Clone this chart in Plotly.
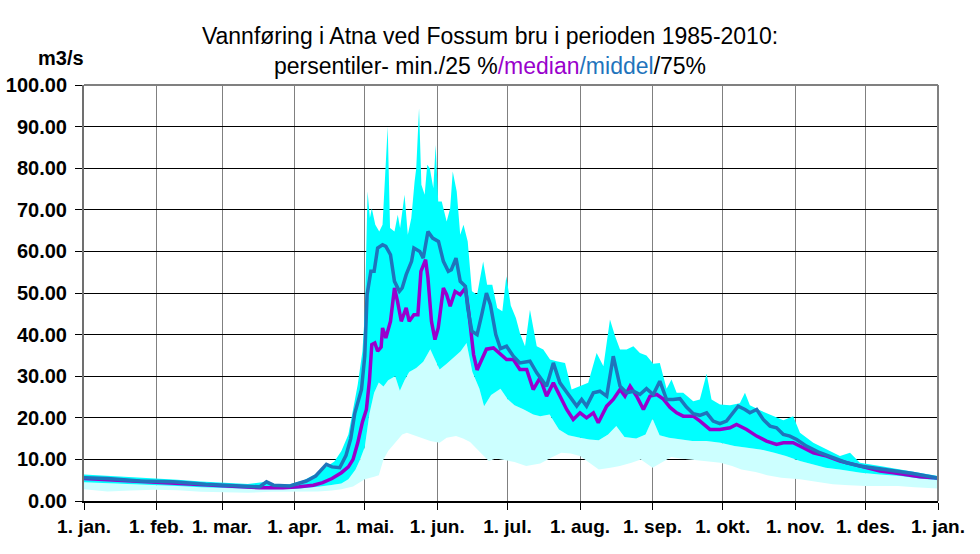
import plotly.graph_objects as go

# ---------------- data (day of year, 0 = 1. jan.) ----------------
month_days = [0, 31, 59, 90, 120, 151, 181, 212, 243, 273, 304, 334, 365]
month_labels = ["1. jan.", "1. feb.", "1. mar.", "1. apr.", "1. mai.", "1. jun.",
                "1. jul.", "1. aug.", "1. sep.", "1. okt.", "1. nov.", "1. des.", "1. jan."]

min_days = [0, 10, 20, 30, 40, 50, 60, 70, 80, 90, 100, 106, 110, 115, 120, 124, 126, 128,
            130, 133, 136, 138, 140, 142, 145, 148, 152, 155, 159, 162, 165, 169, 173, 176,
            180, 184, 189, 195, 200, 204, 208, 212, 216, 220, 225, 229, 234, 238, 243, 247,
            251, 255, 259, 263, 267, 272, 277, 281, 287, 292, 298, 306, 313, 320, 327, 334,
            341, 348, 355, 365]
min_vals = [2.8, 2.3, 2.5, 2.7, 2.6, 2.2, 2.1, 2.0, 2.2, 2.2, 2.3, 2.5, 2.8, 3.5, 5.2, 5.8, 6.2, 10.0,
            12.0, 14.0, 16.0, 16.4, 16.0, 15.6, 15.0, 14.4, 14.0, 15.2, 15.6, 15.0, 14.2, 12.0, 9.6, 10.2,
            9.8, 9.4, 8.4, 9.0, 10.5, 11.6, 11.4, 10.8, 9.2, 7.6, 8.0, 8.4, 9.2, 10.0, 8.0, 9.2,
            10.6, 10.2, 10.0, 9.8, 9.6, 9.2, 8.4, 7.6, 7.0, 6.2, 5.6, 5.2, 4.6, 4.0, 3.8, 3.6,
            3.6, 3.6, 3.3, 3.0]

p25_days = [0, 10, 20, 30, 40, 50, 60, 70, 80, 90, 96, 100, 105, 110, 113, 116, 118, 120, 122,
            124, 126, 128, 130, 133, 135, 137, 139, 142, 145, 148, 150, 152, 155, 158, 161, 163.5,
            166, 169, 171, 174, 176.5, 178, 181, 184, 188, 192, 195, 199, 203, 207, 212, 216, 220,
            224, 227.5, 231, 236, 240, 243, 246, 250, 255, 260, 266, 272, 278, 283, 289, 295,
            300, 306, 312, 317, 323, 332, 340, 349, 357, 365]
p25_vals = [4.5, 4.3, 4.0, 3.8, 3.6, 3.3, 3.1, 2.9, 2.8, 2.9, 3.1, 3.4, 3.8, 4.2, 5.2, 7.5, 10.0, 13.0, 21.0,
            26.0, 28.5, 27.5, 29.0, 30.0, 26.5, 29.0, 31.0, 32.0, 33.5, 36.5, 34.0, 31.6, 33.0, 34.5, 36.0, 38.0,
            31.0, 27.0, 22.8, 25.5, 26.5, 27.0, 24.5, 23.0, 22.0, 20.8, 20.4, 20.8, 17.2, 15.8, 15.2, 14.8, 14.6,
            16.0, 18.0, 15.4, 15.0, 16.0, 19.8, 15.8, 15.2, 14.8, 14.4, 14.4, 14.0, 13.2, 12.8, 12.4, 11.6,
            10.8, 9.6, 8.8, 8.0, 7.6, 6.8, 6.4, 6.0, 5.4, 5.0]

p75_days = [0, 10, 20, 30, 40, 50, 60, 70, 78, 82, 88, 94, 99, 103, 107, 110, 113, 115, 117, 119,
            120, 121.2, 122.2, 123, 124.5, 126.2, 127.6, 129.8, 130.8, 132.7, 134.1, 135.1, 137,
            138.4, 139.9, 141.3, 142, 143.2, 144.2, 145.6, 146.7, 147.8, 149.3, 150.3, 151.4, 152.9,
            155, 156.5, 157.6, 159.3, 160.8, 162.2, 164, 165.8, 168, 170.6, 172.3, 174.5, 176.6,
            178.8, 180.5, 182.4, 184.6, 186.3, 188.5, 190.6, 193.5, 196.3, 199.2, 202, 205.6, 208.4,
            212, 215.5, 219.1, 222, 224.8, 227, 229.1, 231.9, 234.8, 237.6, 240.4, 243.3, 246.1,
            249, 251.1, 253.3, 256.1, 260.4, 263.2, 266.1, 268.2, 271.8, 276.1, 280.3, 282.5, 284.6,
            288.9, 294.6, 298.9, 303.1, 306, 311.7, 317.4, 323.1, 327.4, 331.6, 340.2, 348.7, 357.3, 365]
p75_vals = [6.4, 6.1, 5.8, 5.5, 5.1, 4.7, 4.4, 4.1, 4.6, 3.9, 4.0, 5.0, 6.5, 8.0, 9.5, 12.0, 16.0, 22.0, 28.0, 36.0,
            45.0, 74.4, 68.0, 70.4, 66.4, 64.8, 66.4, 90.0, 65.6, 64.8, 68.8, 65.6, 73.6,
            64.0, 68.0, 76.8, 80.0, 94.4, 76.0, 73.6, 80.8, 80.0, 75.2, 85.6, 72.0, 72.0,
            67.2, 70.4, 79.2, 74.4, 64.0, 66.4, 62.4, 50.4, 49.6, 57.6, 52.0, 52.0, 46.4,
            45.6, 54.0, 47.0, 44.0, 40.4, 37.2, 46.0, 37.2, 36.4, 34.0, 33.6, 33.2, 26.8,
            27.6, 28.4, 35.6, 32.4, 43.6, 39.6, 36.4, 36.4, 37.2, 35.6, 35.0, 33.0, 33.2,
            27.0, 29.2, 26.0, 26.0, 24.0, 24.4, 30.6, 24.4, 23.2, 23.0, 23.5, 26.0, 23.0,
            21.8, 20.4, 19.4, 20.4, 16.4, 14.0, 12.4, 10.8, 11.6, 9.2, 8.4, 7.6, 6.8, 6.0]

median_days = [0, 15, 30, 45, 60, 75, 85, 92, 98, 102, 106, 110, 113, 115, 117, 119, 120.7, 122,
               123, 124.3, 125.5, 127, 127.6, 129, 131, 132.7, 134, 135.6, 137.7, 139, 141, 142.7,
               144, 146, 147, 148.5, 150, 151.4, 153.6, 155, 156.5, 158.6, 160.8, 163, 164.4, 166.5,
               168, 170, 172, 175, 177.8, 180.6, 183.5, 186.3, 189.2, 192, 194.9, 197.7, 200.6,
               203.4, 206.3, 209.1, 212, 214.8, 217.7, 219.8, 223.4, 226.2, 229.1, 231.2, 233.4,
               236.2, 239.1, 241.9, 244.8, 247.6, 250.5, 253.3, 256.1, 260.4, 263.3, 267.5, 271.8,
               276.1, 278.9, 283.2, 287.5, 291.7, 296, 298.9, 303.1, 307.4, 311.7, 317.4, 323.1,
               328.8, 334.5, 340.2, 345.9, 351.6, 357.3, 365]
median_vals = [5.4, 5.0, 4.6, 4.2, 3.8, 3.2, 3.2, 3.4, 3.8, 4.4, 5.4, 6.8, 8.2, 10.0, 14.0, 19.0, 22.0, 29.0,
               37.6, 38.0, 36.0, 37.0, 41.6, 39.2, 43.2, 51.2, 48.0, 43.2, 46.4, 43.2, 44.8, 44.8,
               55.2, 58.0, 53.6, 43.2, 38.8, 41.6, 51.2, 49.6, 46.8, 50.4, 49.6, 51.2, 45.6, 35.2,
               31.5, 34.0, 36.5, 36.8, 35.5, 34.0, 34.0, 31.6, 31.6, 26.8, 29.6, 25.2, 28.4,
               25.2, 22.0, 19.6, 21.2, 20.0, 21.2, 18.8, 22.8, 24.4, 26.8, 25.2, 27.6,
               25.2, 22.0, 25.2, 25.6, 24.5, 22.5, 21.2, 20.4, 20.4, 19.2, 17.2, 17.2,
               17.6, 18.4, 17.2, 15.6, 14.4, 13.6, 14.0, 14.0, 12.8, 11.6, 10.8, 9.6,
               8.8, 8.0, 7.2, 6.8, 6.2, 5.8, 5.5]

mean_days = [0, 10, 24, 38, 52, 66, 75, 78, 81, 88, 92, 95, 99, 103.6, 106, 109.3, 112, 114, 115.7,
             118.6, 120, 121, 122.6, 124, 125.5, 127.6, 129, 131, 132.7, 134.8, 136, 137.7, 140, 141,
             143.5, 145, 147, 149, 151.5, 153.6, 155.7, 157, 159, 160.8, 163, 164, 165.8, 168, 170,
             172, 173.7, 176, 178, 180.6, 183.5, 186.3, 190.6, 193.5, 197.7, 200.6, 203.4, 206.3,
             210.6, 212.7, 214.8, 217.7, 220.5, 223.4, 226.2, 229.1, 231.9, 234.8, 237.6, 240.4,
             243.3, 246.1, 249, 251.8, 254.7, 257.5, 260.4, 263.2, 266.1, 268.9, 271.8, 274.6,
             277.5, 279.6, 282.5, 284.6, 287.5, 290.3, 293.2, 296, 298.9, 301.7, 304.6, 308.8,
             314.5, 320.2, 325.9, 331.6, 337.3, 343, 348.7, 354.4, 360.1, 365]
mean_vals = [5.6, 5.4, 4.8, 4.6, 4.0, 3.6, 3.4, 4.6, 3.8, 3.6, 4.4, 4.8, 6.0, 8.8, 8.2, 8.0, 11.0, 15.0, 21.0,
             26.8, 34.8, 49.6, 55.2, 55.2, 60.8, 61.6, 61.2, 59.2, 52.8, 50.4, 51.2, 54.4, 57.6, 60.8,
             60.0, 58.4, 64.8, 63.2, 62.4, 57.6, 55.2, 55.6, 58.4, 52.8, 51.6, 46.4, 40.8, 40.0, 44.8,
             50.0, 47.2, 40.0, 36.6, 37.2, 34.8, 33.2, 33.6, 30.8, 27.6, 33.2, 28.4, 26.0,
             22.8, 24.4, 22.8, 26.0, 26.4, 25.2, 34.8, 27.6, 26.0, 26.4, 25.6, 27.0,
             25.6, 28.8, 24.4, 24.4, 24.6, 22.6, 21.0, 20.6, 21.2, 19.2, 18.6, 19.2,
             21.2, 22.8, 22.0, 21.2, 22.0, 19.6, 18.0, 17.6, 16.0, 15.6, 14.8, 13.2,
             11.6, 10.4, 9.2, 8.4, 8.0, 7.6, 7.2, 6.6, 6.0, 5.5]

y_ticks = [0, 10, 20, 30, 40, 50, 60, 70, 80, 90, 100]

# ---------------- figure ----------------
FONT = "Liberation Sans, Arial, sans-serif"
fig = go.Figure()

fig.add_trace(go.Scatter(x=min_days, y=min_vals, mode="lines",
                         line=dict(width=0, color="#CCFFFF"), hoverinfo="skip"))
fig.add_trace(go.Scatter(x=p25_days, y=p25_vals, mode="lines", fill="tonexty",
                         fillcolor="#CCFFFF", line=dict(width=0, color="#CCFFFF")))
fig.add_trace(go.Scatter(x=p75_days, y=p75_vals, mode="lines", fill="tonexty",
                         fillcolor="#00FFFF", line=dict(width=0, color="#00FFFF")))
fig.add_trace(go.Scatter(x=median_days, y=median_vals, mode="lines",
                         line=dict(width=3.5, color="#9900CC")))
fig.add_trace(go.Scatter(x=mean_days, y=mean_vals, mode="lines",
                         line=dict(width=3.5, color="#1F74BC")))

title_text = ("Vannføring i Atna ved Fossum bru i perioden 1985-2010:<br>"
              "persentiler- min./25 %<span style='color:#9900CC'>/median</span>"
              "<span style='color:#1F74BC'>/middel</span>/75%")

fig.update_layout(
    width=980, height=554,
    margin=dict(l=84, r=42, t=85, b=53),
    paper_bgcolor="white", plot_bgcolor="white",
    showlegend=False,
    font=dict(family=FONT, color="black"),
    title=dict(text=title_text, x=0.5, xanchor="center", xref="container",
               y=1 - 44 / 554, yanchor="middle", yref="container",
               font=dict(family=FONT, size=23, color="black")),
    xaxis=dict(range=[0, 365], tickmode="array", tickvals=month_days, ticktext=month_labels,
               showgrid=True, gridcolor="#808080", gridwidth=1,
               showline=True, linecolor="black", linewidth=1.5,
               ticks="outside", ticklen=7, tickcolor="black", automargin=False,
               tickfont=dict(family=FONT, size=19, color="black", weight="bold"),
               zeroline=False, fixedrange=True),
    yaxis=dict(range=[0, 100], tickmode="array", tickvals=y_ticks, tickformat=".2f",
               showgrid=True, gridcolor="black", gridwidth=1,
               showline=True, linecolor="#707070", linewidth=2,
               ticks="outside", ticklen=7, tickcolor="black", ticklabelstandoff=4,
               automargin=False,
               tickfont=dict(family=FONT, size=20, color="black", weight="bold"),
               zeroline=False, fixedrange=True),
    shapes=[
        dict(type="line", xref="paper", yref="paper", x0=0, x1=1, y0=1, y1=1,
             line=dict(color="#808080", width=2)),
        dict(type="line", xref="paper", yref="paper", x0=1, x1=1, y0=0, y1=1,
             line=dict(color="#808080", width=2)),
    ],
    annotations=[
        dict(text="<b>m3/s</b>", xref="paper", yref="paper", x=-0.027, y=1.065,
             xanchor="center", yanchor="middle", showarrow=False,
             font=dict(family=FONT, size=20, color="black")),
    ],
)

# remove the default 8 px page margin so the 980x554 figure fills the window
fig.write_html("out.html", config={"displayModeBar": False},
               post_script="document.body.style.margin='0';")
